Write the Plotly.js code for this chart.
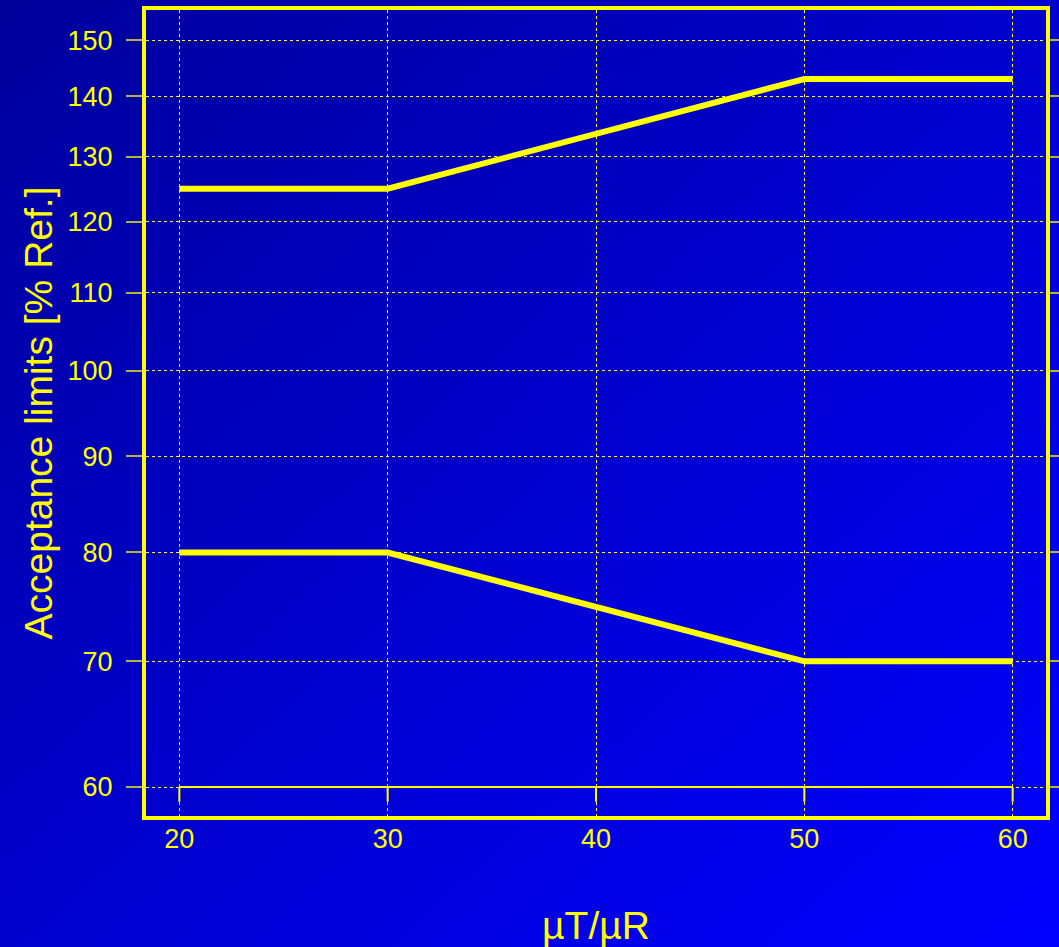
<!DOCTYPE html>
<html>
<head>
<meta charset="utf-8">
<script src="https://cdn.plot.ly/plotly-3.0.1.min.js"></script>
<style>
  html, body { margin: 0; padding: 0; }
  #chart { width: 1059px; height: 947px; background: linear-gradient(to bottom right, #00009c, #0000ff); }
</style>
</head>
<body>
<div id="chart"></div>
<script>
const ratio = [20, 30, 50, 60];
const upperLimit = [125, 125, 143, 143];
const lowerLimit = [80, 80, 70, 70];
const xTicks = [20, 30, 40, 50, 60];
const yTicks = [60, 70, 80, 90, 100, 110, 120, 130, 140, 150];
const xTitle = 'µT/µR';
const yTitle = 'Acceptance limits [% Ref.]';

const yellow = '#ffff00';
const font = 'Liberation Sans, Arial, Helvetica, sans-serif';

const traces = [
  { x: ratio, y: upperLimit, mode: 'lines', line: { color: yellow, width: 6 }, hoverinfo: 'x+y' },
  { x: ratio, y: lowerLimit, mode: 'lines', line: { color: yellow, width: 6 }, hoverinfo: 'x+y' }
];

// axis drawn at the lowest y tick, from first to last x tick, with short ticks downward
const baseY = yTicks[0];
const shapes = [{
  type: 'line', xref: 'x', yref: 'y',
  x0: xTicks[0], x1: xTicks[xTicks.length - 1], y0: baseY, y1: baseY,
  line: { color: yellow, width: 2 }
}];
xTicks.forEach(t => {
  shapes.push({
    type: 'line', xref: 'x', yref: 'y',
    x0: t, x1: t, y0: baseY, y1: baseY * 0.982,
    line: { color: yellow, width: 2 }
  });
});

const layout = {
  width: 1059, height: 947,
  paper_bgcolor: 'rgba(0,0,0,0)',
  plot_bgcolor: 'rgba(0,0,0,0)',
  margin: { l: 146, r: 13, t: 10, b: 131 },
  showlegend: false,
  font: { family: font, color: yellow },
  xaxis: {
    range: [18.4, 61.6],
    tickvals: xTicks,
    ticktext: xTicks.map(String),
    tickfont: { size: 27, color: yellow, family: font },
    ticks: '',
    ticklabelstandoff: -4,
    showgrid: true, gridcolor: yellow, griddash: 'dot', gridwidth: 1,
    showline: true, linecolor: yellow, linewidth: 4, mirror: true,
    zeroline: false,
    title: { text: xTitle, font: { size: 39, color: yellow, family: font }, standoff: 76 }
  },
  yaxis: {
    type: 'log',
    range: [1.7627, 2.1921],
    tickvals: yTicks,
    ticktext: yTicks.map(String),
    tickfont: { size: 27, color: yellow, family: font },
    ticks: 'outside', ticklen: 16, tickwidth: 2, tickcolor: '#b4b43c',
    ticklabelstandoff: 8,
    showgrid: true, gridcolor: yellow, griddash: 'dot', gridwidth: 1,
    showline: true, linecolor: yellow, linewidth: 4, mirror: 'allticks',
    zeroline: false,
    title: { text: yTitle, font: { size: 39, color: yellow, family: font }, standoff: 4 }
  },
  shapes: shapes
};

Plotly.newPlot('chart', traces, layout, { displayModeBar: false, staticPlot: true });
</script>
</body>
</html>
